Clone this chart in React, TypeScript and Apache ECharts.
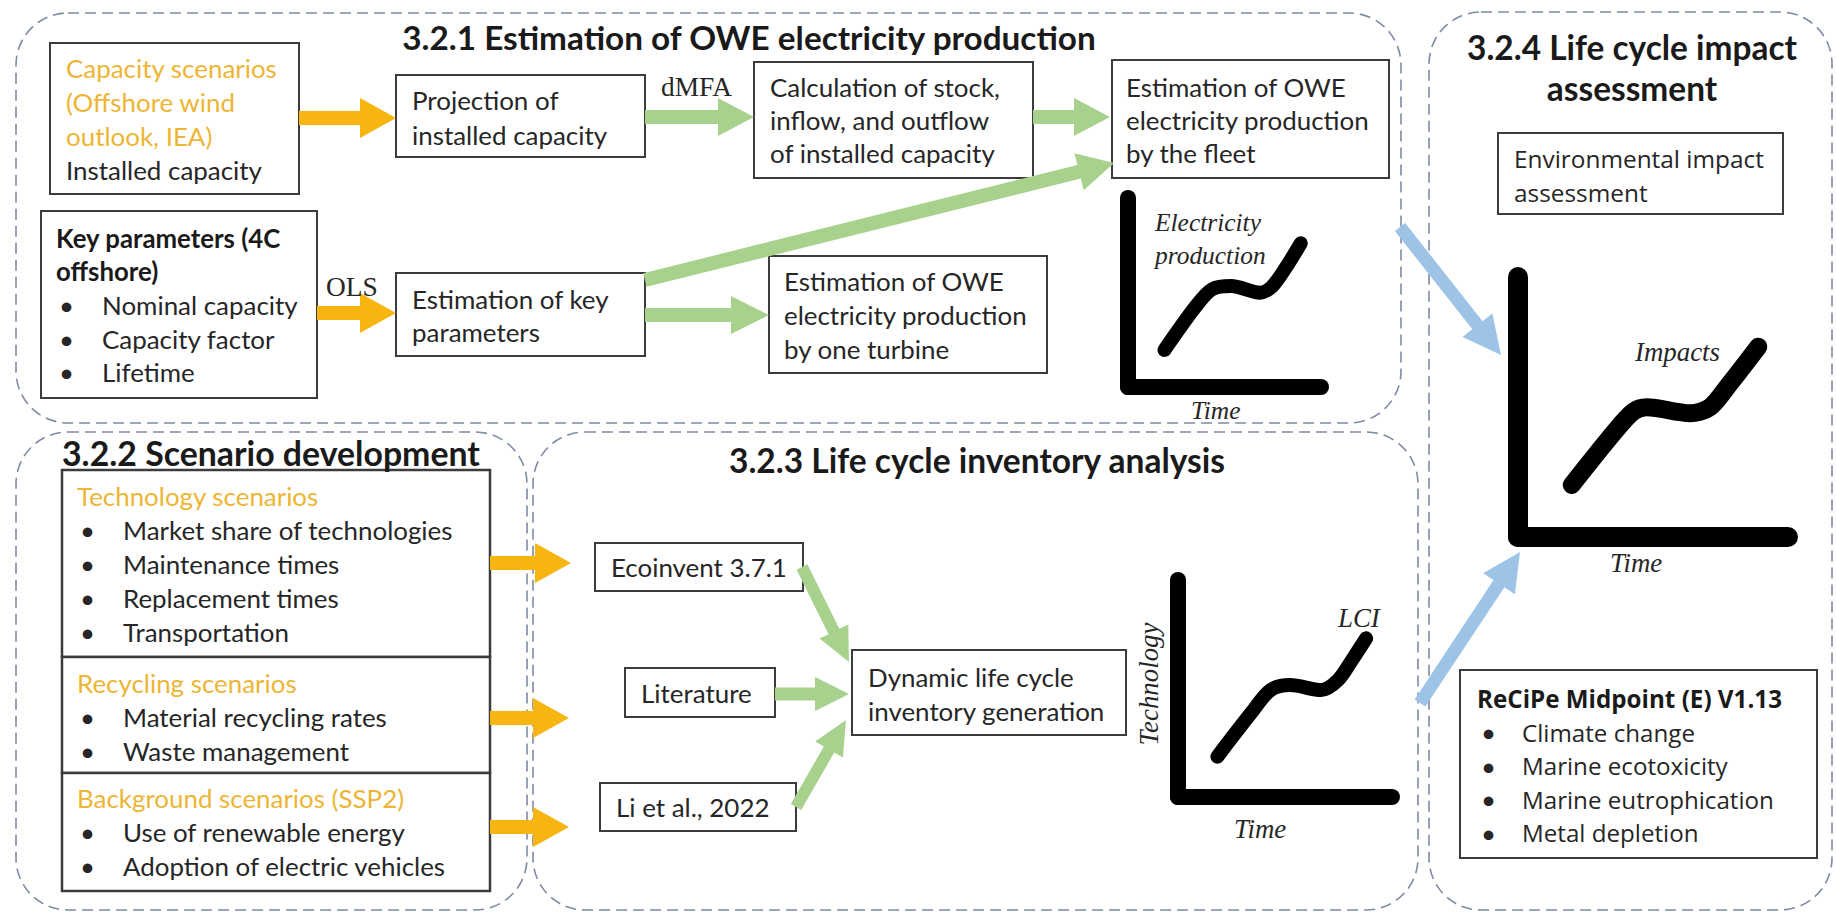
import React, { useEffect, useRef } from "react";
import * as echarts from "echarts";

// ---- Text content ----
const titles = [
  "3.2.1 Estimation of OWE electricity production",
  "3.2.2 Scenario development",
  "3.2.3 Life cycle inventory analysis",
  "3.2.4 Life cycle impact",
  "assessment",
];
const capacityOrange = ["Capacity scenarios", "(Offshore wind", "outlook, IEA)"];
const capacityDark = "Installed capacity";
const projectionLines = ["Projection of", "installed capacity"];
const keyParamHead = ["Key parameters (4C", "offshore)"];
const keyParamItems = ["Nominal capacity", "Capacity factor", "Lifetime"];
const estKeyLines = ["Estimation of key", "parameters"];
const calcLines = ["Calculation of stock,", "inflow, and outflow", "of installed capacity"];
const fleetLines = ["Estimation of OWE", "electricity production", "by the fleet"];
const turbineLines = ["Estimation of OWE", "electricity production", "by one turbine"];
const techHead = "Technology scenarios";
const techItems = ["Market share of technologies", "Maintenance times", "Replacement times", "Transportation"];
const recHead = "Recycling scenarios";
const recItems = ["Material recycling rates", "Waste management"];
const bgHead = "Background scenarios (SSP2)";
const bgItems = ["Use of renewable energy", "Adoption of electric vehicles"];
const lciSources = ["Ecoinvent 3.7.1", "Literature", "Li et al., 2022"];
const dynamicLines = ["Dynamic life cycle", "inventory generation"];
const envLines = ["Environmental impact", "assessment"];
const recipeHead = "ReCiPe Midpoint (E) V1.13";
const recipeItems = ["Climate change", "Marine ecotoxicity", "Marine eutrophication", "Metal depletion"];

// ---- Schematic curves (0-100 units along each sketch's axes) ----
const electricityCurve = [[18.9, 19.6], [35, 42.5], [43.6, 51.7], [53.5, 53.4], [68.4, 49.9], [74.6, 53.1], [82.1, 63.7], [89.5, 76]];
const lciCurve = [[18.4, 18.6], [34.1, 38.6], [43.3, 49.3], [52.5, 51.6], [66.9, 49.3], [74.8, 53.9], [81.3, 63.1], [87.9, 73.1]];
const impactsCurve = [[19.9, 20], [35.3, 39.9], [42.7, 48.2], [47.7, 49.9], [63.7, 47.6], [71.1, 49.9], [78.5, 59.1], [89, 73.2]];

const ORANGE = "#F6B511";
const ORANGE_TXT = "#EDB534";
const GREEN = "#A9D18E";
const BLUE = "#9DC3E6";
const DASH = "#7f8aa3";
const BORDER = "#3c3c3c";
const TXT = "#262626";

const SANS = "Lato";
const OPEN = "'Open Sans'";
const SERIF = "'Liberation Serif'";

function arrowPts(x1: number, y1: number, x2: number, y2: number, sw: number, hw: number, hl: number) {
  const dx = x2 - x1, dy = y2 - y1, L = Math.hypot(dx, dy);
  const ux = dx / L, uy = dy / L, nx = -uy, ny = ux;
  const bx = x2 - ux * hl, by = y2 - uy * hl;
  return [
    [x1 + nx * sw / 2, y1 + ny * sw / 2],
    [bx + nx * sw / 2, by + ny * sw / 2],
    [bx + nx * hw / 2, by + ny * hw / 2],
    [x2, y2],
    [bx - nx * hw / 2, by - ny * hw / 2],
    [bx - nx * sw / 2, by - ny * sw / 2],
    [x1 - nx * sw / 2, y1 - ny * sw / 2],
  ];
}

export default function App() {
  const ref = useRef<HTMLDivElement>(null);
  useEffect(() => {
    document.body.style.margin = "0";
    const ctx = document.createElement("canvas").getContext("2d")!;
    const fit = (s: string, fam: string, weight: string, style: string, target: number) => {
      ctx.font = `${style} ${weight} 100px ${fam}`;
      return (100 * target) / ctx.measureText(s).width;
    };
    const fT1 = fit(titles[0], SANS, "bold", "normal", 695);
    const fT2 = fit(titles[1], SANS, "bold", "normal", 418);
    const fT3 = fit(titles[2], SANS, "bold", "normal", 497);
    const fT4 = fit(titles[3], SANS, "bold", "normal", 330);
    const fB1 = fit("Installed capacity", SANS, "normal", "normal", 196);
    const fKB = fit("Key parameters (4C", SANS, "bold", "normal", 225);
    const fB2 = fit("Market share of technologies", SANS, "normal", "normal", 330);
    const fB3 = fit("inventory generation", SANS, "normal", "normal", 237);
    const fO = fit("Climate change", OPEN, "normal", "normal", 173);
    const fOB = fit(recipeHead, OPEN, "bold", "normal", 305);
    const fOE = fit("Environmental impact", OPEN, "normal", "normal", 250);
    const fSI = fit("Impacts", SERIF, "normal", "italic", 85);
    const fSE = fit("Electricity", SERIF, "normal", "italic", 106);
    const fSR = fit("dMFA", SERIF, "normal", "normal", 71);

    const G: any[] = [];
    const rect = (x: number, y: number, w: number, h: number, o: any) =>
      G.push({
        type: "rect",
        shape: { x, y, width: w, height: h, r: o.r || 0 },
        style: { fill: o.fill ?? "none", stroke: o.stroke, lineWidth: o.lw, lineDash: o.dash },
        z: o.z ?? 2,
      });
    const txt = (x: number, y: number, text: string, o: any) =>
      G.push({
        type: "text",
        x,
        y,
        rotation: o.rot || 0,
        style: {
          text,
          fill: o.color || TXT,
          font: `${o.style || "normal"} ${o.weight || "normal"} ${o.size.toFixed(2)}px ${o.family || SANS}`,
          textAlign: o.align || "left",
          textVerticalAlign: "middle",
          align: o.align || "left",
          verticalAlign: "middle",
        },
        z: 10,
      });
    const arrow = (x1: number, y1: number, x2: number, y2: number, color: string, sw = 14, hw = 40, hl = 36) =>
      G.push({ type: "polygon", shape: { points: arrowPts(x1, y1, x2, y2, sw, hw, hl) }, style: { fill: color }, z: 6 });

    // dashed sections
    const dash = { stroke: DASH, lw: 1.6, dash: [11, 6], r: 52, z: 1 };
    rect(16, 13, 1385, 410, dash);
    rect(16, 432, 511, 478, dash);
    rect(533, 432, 885, 478, dash);
    rect(1429, 12, 403, 898, dash);

    // boxes
    const box = { stroke: BORDER, lw: 2, fill: "#fff" };
    rect(50, 43, 249, 151, box);
    rect(396, 75, 249, 82, box);
    rect(41, 211, 276, 187, box);
    rect(396, 273, 249, 83, box);
    rect(754, 62, 279, 116, box);
    rect(1112, 60, 277, 118, box);
    rect(769, 256, 278, 117, box);
    rect(62, 470, 428, 187, { ...box, lw: 2.5 });
    rect(62, 657, 428, 116, { ...box, lw: 2.5 });
    rect(62, 773, 428, 118, { ...box, lw: 2.5 });
    rect(595, 543, 208, 48, box);
    rect(625, 668, 150, 49, box);
    rect(600, 783, 196, 48, box);
    rect(852, 650, 274, 85, box);
    rect(1498, 133, 285, 81, box);
    rect(1460, 670, 357, 188, box);

    // arrows
    arrow(299, 118, 396, 118, ORANGE);
    arrow(317, 313, 396, 313, ORANGE);
    arrow(490, 563, 571, 563, ORANGE);
    arrow(490, 718, 569, 718, ORANGE);
    arrow(490, 827, 569, 827, ORANGE);
    arrow(645, 117, 754, 117, GREEN, 14, 38, 36);
    arrow(1033, 117, 1110, 117, GREEN, 14, 38, 36);
    arrow(645, 280, 1114, 163, GREEN, 14, 38, 36);
    arrow(645, 315, 769, 315, GREEN, 14, 38, 38);
    arrow(802, 567, 849, 662, GREEN, 12, 32, 34);
    arrow(775, 694, 849, 694, GREEN, 13, 34, 34);
    arrow(796, 807, 846, 720, GREEN, 12, 32, 34);
    arrow(1400, 227, 1501, 355, BLUE, 13, 38, 38);
    arrow(1420, 703, 1520, 552, BLUE, 13, 38, 38);

    // titles
    txt(749, 37, titles[0], { size: fT1, weight: "bold", align: "center", color: "#1a1a1a" });
    txt(62, 453, titles[1], { size: fT2, weight: "bold", color: "#1a1a1a" });
    txt(977, 460, titles[2], { size: fT3, weight: "bold", align: "center", color: "#1a1a1a" });
    txt(1632, 47, titles[3], { size: fT4, weight: "bold", align: "center", color: "#1a1a1a" });
    txt(1632, 88, titles[4], { size: fT4, weight: "bold", align: "center", color: "#1a1a1a" });

    // S1 texts
    capacityOrange.forEach((s, i) => txt(66, 68 + i * 34, s, { size: fB1, color: ORANGE_TXT }));
    txt(66, 170, capacityDark, { size: fB1 });
    projectionLines.forEach((s, i) => txt(412, 100 + i * 35, s, { size: fB1 }));
    keyParamHead.forEach((s, i) => txt(56, 238 + i * 33, s, { size: fKB, weight: "bold", color: "#1a1a1a" }));
    keyParamItems.forEach((s, i) => {
      txt(59, 305 + i * 33.5, "•", { size: fB1 });
      txt(102, 305 + i * 33.5, s, { size: fB1 });
    });
    estKeyLines.forEach((s, i) => txt(412, 299 + i * 33, s, { size: fB1 }));
    calcLines.forEach((s, i) => txt(770, 87 + i * 33, s, { size: fB1 }));
    fleetLines.forEach((s, i) => txt(1126, 87 + i * 33, s, { size: fB1 }));
    turbineLines.forEach((s, i) => txt(784, 281 + i * 34, s, { size: fB1 }));
    txt(661, 87, "dMFA", { size: fSR, family: SERIF });
    txt(326, 287, "OLS", { size: fSR, family: SERIF });
    txt(1155, 222, "Electricity", { size: fSE, family: SERIF, style: "italic" });
    txt(1155, 255, "production", { size: fSE, family: SERIF, style: "italic" });
    txt(1191, 410, "Time", { size: fSE, family: SERIF, style: "italic" });

    // S2 texts
    const s2 = (y: number, s: string, head: boolean) => {
      if (head) txt(77, y, s, { size: fB2, color: ORANGE_TXT });
      else {
        txt(80, y, "•", { size: fB2 });
        txt(123, y, s, { size: fB2 });
      }
    };
    s2(496, techHead, true);
    techItems.forEach((s, i) => s2(530 + i * 34, s, false));
    s2(683, recHead, true);
    recItems.forEach((s, i) => s2(717 + i * 34, s, false));
    s2(798, bgHead, true);
    bgItems.forEach((s, i) => s2(832 + i * 34, s, false));

    // S3 texts
    txt(611, 567, lciSources[0], { size: fB3 });
    txt(641, 693, lciSources[1], { size: fB3 });
    txt(616, 807, lciSources[2], { size: fB3 });
    dynamicLines.forEach((s, i) => txt(868, 677 + i * 34, s, { size: fB3 }));
    txt(1338, 618, "LCI", { size: fSI, family: SERIF, style: "italic" });
    txt(1149, 684, "Technology", { size: fSI, family: SERIF, style: "italic", align: "center", rot: Math.PI / 2 });
    txt(1234, 829, "Time", { size: fSI, family: SERIF, style: "italic" });

    // S4 texts
    envLines.forEach((s, i) => txt(1514, 158 + i * 34, s, { size: fOE, family: OPEN }));
    txt(1635, 352, "Impacts", { size: fSI, family: SERIF, style: "italic" });
    txt(1610, 563, "Time", { size: fSI, family: SERIF, style: "italic" });
    txt(1477, 698, recipeHead, { size: fOB, family: OPEN, weight: "bold", color: "#1a1a1a" });
    recipeItems.forEach((s, i) => {
      txt(1481, 732 + i * 33.5, "•", { size: fB1 });
      txt(1522, 732 + i * 33.5, s, { size: fO, family: OPEN });
    });

    // schematic grids
    const grids = [
      { left: 1128, top: 198, width: 193, height: 189, w: 16, cw: 14, data: electricityCurve },
      { left: 1178, top: 580, width: 214, height: 217, w: 16, cw: 14, data: lciCurve },
      { left: 1518, top: 277, width: 270, height: 260, w: 20, cw: 18, data: impactsCurve },
    ];
    const axisCommon = (w: number) => ({
      type: "value",
      min: 0,
      max: 100,
      axisLine: { show: true, onZero: false, lineStyle: { color: "#000", width: w, cap: "round" } },
      axisTick: { show: false },
      axisLabel: { show: false },
      splitLine: { show: false },
    });

    const option: any = {
      animation: false,
      backgroundColor: "#fff",
      grid: grids.map((g) => ({ left: g.left, top: g.top, width: g.width, height: g.height })),
      xAxis: grids.map((g, i) => ({ ...axisCommon(g.w), gridIndex: i })),
      yAxis: grids.map((g, i) => ({ ...axisCommon(g.w), gridIndex: i })),
      series: grids.map((g, i) => ({
        type: "line",
        xAxisIndex: i,
        yAxisIndex: i,
        data: g.data,
        smooth: 0.3,
        symbol: "none",
        lineStyle: { color: "#000", width: g.cw, cap: "round", join: "round" },
        z: 3,
      })),
      graphic: { elements: G },
    };

    const chart = echarts.init(ref.current!, null, { renderer: "svg" });
    chart.setOption(option);
    return () => chart.dispose();
  }, []);
  return <div ref={ref} style={{ width: 1836, height: 914, background: "#fff" }} />;
}
